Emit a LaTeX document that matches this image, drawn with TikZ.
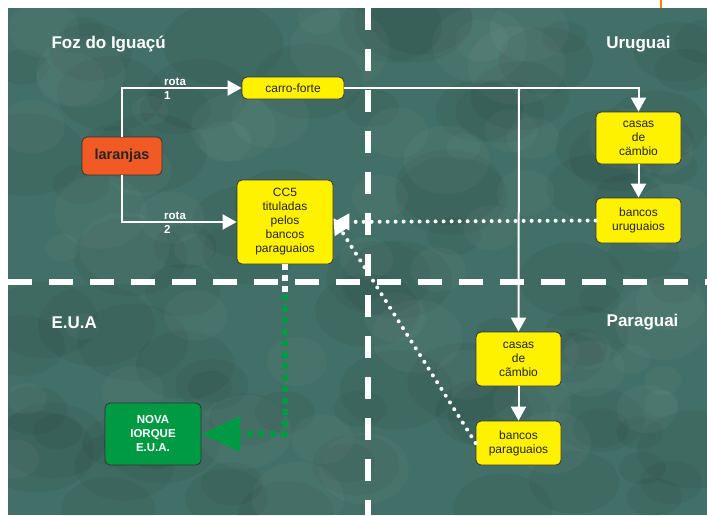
\documentclass[tikz,border=0pt]{standalone}
\usepackage{fontspec}
\setmainfont{Liberation Sans}
\usetikzlibrary{arrows.meta}

\begin{document}
\begin{tikzpicture}[x=1pt,y=-1pt,
    box/.style={draw=black!80,line width=.8pt,rounded corners=5pt,fill=boxyellow,
        align=center,inner sep=1pt,text=black!85,font=\fontsize{12}{14}\selectfont},
    region/.style={text=white,font=\fontsize{17}{19}\selectfont\bfseries},
    rota/.style={text=white,font=\fontsize{11.5}{12}\selectfont\bfseries,inner sep=0pt},
    flow/.style={white,line width=2pt,-{Triangle[length=14pt,width=15pt]}},
    back/.style={white,line width=4pt,dash pattern=on 0pt off 8pt,line cap=round,
        -{Triangle[length=16pt,width=16pt]}},
    border/.style={white,line width=6pt}]
    \definecolor{boxyellow}{HTML}{FFF200}
    \definecolor{ground}{HTML}{426F67}
    \definecolor{usgreen}{HTML}{009A44}
    \definecolor{mule}{HTML}{F15A24}
    \useasboundingbox (0,0) rectangle (707,515);
    \fill[white] (0,0) rectangle (707,515);
    \fill[ground] (8,8) rectangle (707,515);
    % mottled texture
    \begin{scope}
    \clip (8,8) rectangle (707,515);
    \pgfmathsetseed{17}
    \foreach \i in {1,...,90}{
        \pgfmathsetmacro\bx{8+699*rnd}
        \pgfmathsetmacro\by{8+507*rnd}
        \pgfmathsetmacro\br{20+40*rnd}
        \fill[black,opacity=.045] (\bx,\by) ellipse ({\br} and {.7*\br});
    }
    \foreach \i in {1,...,60}{
        \pgfmathsetmacro\bx{8+699*rnd}
        \pgfmathsetmacro\by{8+507*rnd}
        \pgfmathsetmacro\br{15+35*rnd}
        \fill[white,opacity=.03] (\bx,\by) ellipse ({\br} and {.8*\br});
    }
    \end{scope}
    \draw[orange,line width=2.5pt] (661,0) -- (661,8);
    % borders
    \draw[border,dash pattern=on 22pt off 19pt] (368,8) -- (368,515);
    \draw[border,line width=6.5pt,dash pattern=on 24pt off 17pt] (8,282) -- (707,282);
    % regions
    \node[region,anchor=west] (foz) at (48,44) {Foz do Iguaçú};
    \node[region,anchor=east] (uru) at (674,44) {Uruguai};
    \node[region,anchor=west] (eua) at (48,323) {E.U.A};
    \node[region,anchor=east] (par) at (682,322) {Paraguai};
    % boxes
    \node[box,fill=mule,minimum width=80pt,minimum height=38pt,
        font=\fontsize{14.5}{16}\selectfont\bfseries] (lar) at (122,156) {laranjas};
    \node[box,minimum width=102pt,minimum height=22pt] (carro) at (293,88) {carro-forte};
    \node[box,minimum width=96pt,minimum height=84pt] (cc5) at (285,222)
        {CC5\\tituladas\\pelos\\bancos\\paraguaios};
    \node[box,minimum width=85pt,minimum height=52pt] (casasU) at (638.5,138)
        {casas\\de\\cämbio};
    \node[box,minimum width=85pt,minimum height=45pt] (bancosU) at (638.5,220.5)
        {bancos\\uruguaios};
    \node[box,minimum width=85pt,minimum height=54pt] (casasP) at (518.5,359)
        {casas\\de\\cãmbio};
    \node[box,minimum width=85pt,minimum height=44pt] (bancosP) at (518.5,443)
        {bancos\\paraguaios};
    \node[box,fill=usgreen,text=white,minimum width=96pt,minimum height=62pt,
        font=\fontsize{11.5}{14}\selectfont\bfseries] (nova) at (153,434)
        {NOVA\\IORQUE\\E.U.A.};
    % rota 1 and rota 2
    \draw[flow] (lar.north) |- (carro.west);
    \draw[flow] (lar.south) |- (cc5.west);
    \node[rota,anchor=south west] (r1a) at (164,86) {rota};
    \node[rota,anchor=north west] (r1b) at (164,91) {1};
    \node[rota,anchor=south west] (r2a) at (164,220) {rota};
    \node[rota,anchor=north west] (r2b) at (164,225) {2};
    % carro-forte to the exchange houses
    \coordinate (split) at (519,88);
    \draw[flow] (carro.east) -| (casasU.north);
    \draw[flow] (split) -- (casasP.north);
    \draw[flow] (casasU) -- (bancosU);
    \draw[flow] (casasP) -- (bancosP);
    % money back to CC5
    \draw[back] (bancosU.west) -- (cc5.east);
    \draw[back] (bancosP.west) -- ([yshift=4pt]cc5.east);
    % CC5 to New York
    \coordinate (cross) at (285,294);
    \coordinate (bend) at (285,434);
    \draw[white,line width=5.5pt,dash pattern=on 6pt off 5pt] (cc5.south) -- (cross);
    \draw[usgreen,line width=5.5pt,dash pattern=on 6pt off 5.5pt] (cross) -- (bend) -- ([xshift=38pt]nova.east);
    \fill[usgreen] (nova.east) -- ++(39,-18) -- ++(0,36) -- cycle;
\end{tikzpicture}
\end{document}
